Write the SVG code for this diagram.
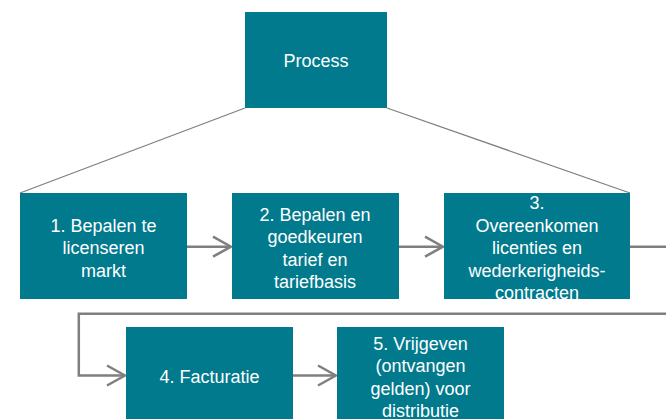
<svg xmlns="http://www.w3.org/2000/svg" width="666" height="419" viewBox="0 0 666 419">
<style>
.box{fill:#017A8D}
.t{font-family:"Liberation Sans",Arial,sans-serif;font-size:18px;fill:#ffffff;text-anchor:middle}
.c{fill:none;stroke:#7F7F7F;stroke-width:2.5}
.d{fill:none;stroke:#7F7F7F;stroke-width:1.3}
</style>
<defs>
<marker id="arr" markerUnits="userSpaceOnUse" viewBox="-22 -13 24 26" refX="0" refY="0" markerWidth="24" markerHeight="26" orient="auto">
<path d="M-18,-10 L0,0 L-18,10" fill="none" stroke="#7F7F7F" stroke-width="2.5"/>
</marker>
</defs>
<g id="connectors">
<path class="d" d="M245,108 L20,193"/>
<path class="d" d="M387,108 L630,193"/>
<path class="c" d="M187,246.7 L231,246.7" marker-end="url(#arr)"/>
<path class="c" d="M399,246.7 L443,246.7" marker-end="url(#arr)"/>
<path class="c" d="M630,246.7 L666,246.7"/>
<path class="c" d="M666,313.7 L78.8,313.7 L78.8,375.5 L125,375.5" marker-end="url(#arr)"/>
<path class="c" d="M293,375.5 L336,375.5" marker-end="url(#arr)"/>
</g>
<g id="process">
<rect class="box" x="245" y="12" width="142" height="96"/>
<text class="t" x="316" y="66.5">Process</text>
</g>
<g id="step1">
<rect class="box" x="20" y="193" width="167" height="106"/>
<text class="t" x="103.5" y="231.5">1. Bepalen te</text>
<text class="t" x="103.5" y="254">licenseren</text>
<text class="t" x="103.5" y="276.5">markt</text>
</g>
<g id="step2">
<rect class="box" x="232" y="193" width="167" height="106"/>
<text class="t" x="315" y="221">2. Bepalen en</text>
<text class="t" x="315" y="243.3">goedkeuren</text>
<text class="t" x="315" y="265.5">tarief en</text>
<text class="t" x="315" y="287.7">tariefbasis</text>
</g>
<g id="step3">
<rect class="box" x="444" y="193" width="186" height="106"/>
<text class="t" x="537" y="209">3.</text>
<text class="t" x="537" y="231.5">Overeenkomen</text>
<text class="t" x="537" y="254">licenties en</text>
<text class="t" x="537" y="276.5">wederkerigheids-</text>
<text class="t" x="537" y="299">contracten</text>
</g>
<g id="step4">
<rect class="box" x="126" y="327" width="167" height="92"/>
<text class="t" x="209.5" y="383">4. Facturatie</text>
</g>
<g id="step5">
<rect class="box" x="337" y="327" width="167" height="92"/>
<text class="t" x="420.5" y="350">5. Vrijgeven</text>
<text class="t" x="420.5" y="372">(ontvangen</text>
<text class="t" x="420.5" y="394.5">gelden) voor</text>
<text class="t" x="420.5" y="416.5">distributie</text>
</g>
</svg>
